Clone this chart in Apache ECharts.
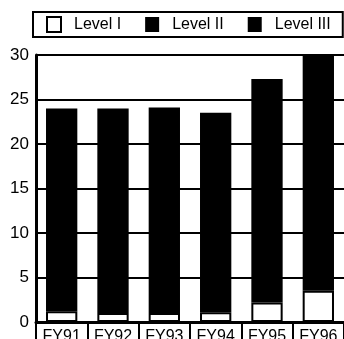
<!DOCTYPE html>
<html>
<head>
<meta charset="utf-8">
<script src="https://cdn.jsdelivr.net/npm/echarts@6/dist/echarts.min.js"></script>
<style>
  html, body { margin: 0; padding: 0; background: #fff; }
</style>
</head>
<body>
<div id="chart" style="width: 344px; height: 339px;"></div>
<script>
const years = ['FY91', 'FY92', 'FY93', 'FY94', 'FY95', 'FY96'];
const level1 = [1.2, 1.0, 1.0, 1.1, 2.2, 3.5];
const level2 = [22.8, 23.0, 23.1, 22.4, 25.1, 26.6];
const level3 = [0, 0, 0, 0, 0, 0];
const yTicks = [0, 5, 10, 15, 20, 25, 30];

const myChart = echarts.init(document.getElementById('chart'));
const font = 'Liberation Sans, Arial, Helvetica, sans-serif';

const option = {
    animation: false,
    textStyle: { fontFamily: font, color: '#000' },
    legend: {
        left: 33,
        top: 12,
        padding: [4, 12, 4, 13],
        itemGap: 24,
        itemWidth: 14,
        itemHeight: 15,
        borderColor: '#000',
        borderWidth: 2,
        borderRadius: 0,
        icon: 'rect',
        textStyle: { fontFamily: font, fontSize: 16, color: '#000', padding: [0, 0, 0, 8] },
        data: ['Level I', 'Level II', 'Level III']
    },
    grid: { left: 36, right: 0, top: 55, bottom: 17, containLabel: false, outerBoundsMode: 'none' },
    xAxis: {
        type: 'category',
        data: years,
        axisLine: { lineStyle: { color: '#000', width: 3 } },
        axisTick: { show: true, length: 17, lineStyle: { color: '#000', width: 2 } },
        axisLabel: { fontFamily: font, fontSize: 16, color: '#000', margin: 7 }
    },
    yAxis: {
        type: 'value',
        min: yTicks[0],
        max: yTicks[yTicks.length - 1],
        interval: 5,
        axisLine: { show: true, lineStyle: { color: '#000', width: 3 } },
        axisTick: { show: false },
        axisLabel: { fontFamily: font, fontSize: 17, color: '#000', margin: 7 },
        splitLine: { lineStyle: { color: '#000', width: 2 } }
    },
    series: [
        {
            name: 'Level I',
            type: 'bar',
            stack: 'total',
            barWidth: '61%',
            data: level1,
            itemStyle: { color: '#fff', borderColor: '#000', borderWidth: 2 }
        },
        {
            name: 'Level II',
            type: 'bar',
            stack: 'total',
            data: level2,
            itemStyle: { color: '#000' }
        },
        {
            name: 'Level III',
            type: 'bar',
            stack: 'total',
            data: level3,
            itemStyle: { color: '#000' }
        }
    ]
};

myChart.setOption(option);
window.addEventListener('resize', myChart.resize);
</script>
</body>
</html>
